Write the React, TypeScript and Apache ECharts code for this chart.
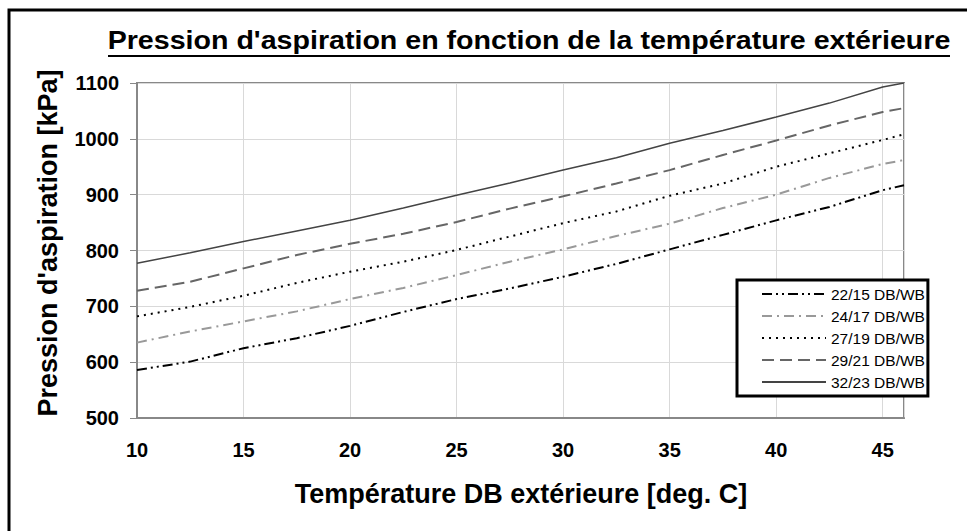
import React, { useEffect, useRef } from "react";
import * as echarts from "echarts";

const temps = [10, 12.5, 15, 17.5, 20, 22.5, 25, 27.5, 30, 32.5, 35, 37.5, 40, 42.5, 45, 46];
const s2215 = [586, 601, 625, 643, 665, 690, 713, 732, 753, 776, 802, 828, 854, 878, 908, 917];
const s2417 = [635, 655, 673, 691, 713, 733, 756, 780, 802, 826, 848, 876, 900, 930, 955, 962];
const s2719 = [682, 699, 719, 742, 762, 780, 801, 825, 849, 870, 898, 920, 950, 974, 998, 1008];
const s2921 = [728, 744, 768, 792, 812, 830, 851, 875, 897, 920, 944, 971, 997, 1024, 1048, 1055];
const s3223 = [777, 796, 816, 835, 854, 876, 899, 921, 944, 966, 992, 1015, 1039, 1064, 1093, 1100];

const seriesNames = ["22/15 DB/WB", "24/17 DB/WB", "27/19 DB/WB", "29/21 DB/WB", "32/23 DB/WB"];
const seriesValues = [s2215, s2417, s2719, s2921, s3223];

const titleText = "Pression d'aspiration en fonction de la température extérieure";
const xTitle = "Température DB extérieure [deg. C]";
const yTitle = "Pression d'aspiration [kPa]";

const FONT = '"Liberation Sans", Arial, sans-serif';

const lineStyles = [
  { color: "#000000", width: 2, type: [10, 4, 2, 4, 2, 4] },
  { color: "#999999", width: 2, type: [10, 5, 2, 5] },
  { color: "#000000", width: 2, type: [2, 5] },
  { color: "#666666", width: 2, type: [12, 6] },
  { color: "#444444", width: 1.5, type: "solid" },
];

export default function App() {
  const ref = useRef<HTMLDivElement>(null);
  useEffect(() => {
    if (!ref.current) return;
    const chart = echarts.init(ref.current, null, { renderer: "svg" });
    const series = seriesNames.map((name, i) => ({
      name,
      type: "line",
      data: temps.map((t, j) => [t, seriesValues[i][j]]),
      symbol: "none",
      smooth: false,
      lineStyle: lineStyles[i],
      itemStyle: { color: lineStyles[i].color },
    }));
    chart.setOption({
      animation: false,
      backgroundColor: "#ffffff",
      grid: {
        left: 137,
        right: 63,
        top: 83,
        bottom: 113,
        show: true,
        borderColor: "#888888",
        borderWidth: 2,
      },
      xAxis: {
        type: "value",
        min: 10,
        max: 46,
        interval: 5,
        axisLine: { lineStyle: { color: "#888888", width: 2 } },
        axisTick: { show: false },
        splitLine: { lineStyle: { color: "#d9d9d9", width: 1 } },
        axisLabel: {
          showMaxLabel: false,
          margin: 22,
          color: "#000",
          fontFamily: FONT,
          fontWeight: "bold",
          fontSize: 20,
        },
      },
      yAxis: {
        type: "value",
        min: 500,
        max: 1100,
        interval: 100,
        axisLine: { show: true, lineStyle: { color: "#888888", width: 2 } },
        axisTick: { show: true, length: 7, lineStyle: { color: "#888888" } },
        splitLine: { lineStyle: { color: "#d9d9d9", width: 1 } },
        axisLabel: {
          margin: 18,
          color: "#000",
          fontFamily: FONT,
          fontWeight: "bold",
          fontSize: 20,
          formatter: (v: number) => String(v),
        },
      },
      legend: {
        orient: "vertical",
        left: 737,
        top: 280,
        data: seriesNames,
        itemWidth: 64,
        itemHeight: 16,
        itemGap: 6,
        padding: [6, 3, 6, 24],
        borderColor: "#000",
        borderWidth: 3,
        backgroundColor: "#fff",
        itemStyle: { opacity: 0, color: "transparent", borderWidth: 0 },
        textStyle: { fontFamily: FONT, fontSize: 15.5, color: "#000" },
      },
      graphic: [
        {
          type: "rect",
          shape: { x: 9, y: 10, width: 1000, height: 600 },
          style: { fill: "none", stroke: "#000", lineWidth: 3 },
          silent: true,
        },
        {
          type: "text",
          x: 529,
          y: 40,
          scaleX: 1.1,
          style: {
            text: titleText,
            fontFamily: FONT,
            fontWeight: "bold",
            fontSize: 26,
            fill: "#000",
            textAlign: "center",
            textVerticalAlign: "middle",
            align: "center",
            verticalAlign: "middle",
          },
        },
        {
          type: "line",
          shape: { x1: 108, y1: 56, x2: 950, y2: 56 },
          style: { stroke: "#000", lineWidth: 2 },
        },
        {
          type: "text",
          x: 48,
          y: 243,
          rotation: Math.PI / 2,
          style: {
            text: yTitle,
            fontFamily: FONT,
            fontWeight: "bold",
            fontSize: 27,
            fill: "#000",
            textAlign: "center",
            textVerticalAlign: "middle",
            align: "center",
            verticalAlign: "middle",
          },
        },
        {
          type: "text",
          x: 521,
          y: 494,
          style: {
            text: xTitle,
            fontFamily: FONT,
            fontWeight: "bold",
            fontSize: 27,
            fill: "#000",
            textAlign: "center",
            textVerticalAlign: "middle",
            align: "center",
            verticalAlign: "middle",
          },
        },
      ],
      series,
    });
    return () => chart.dispose();
  }, []);
  return (
    <div
      ref={ref}
      style={{ position: "fixed", left: 0, top: 0, width: 967, height: 531, background: "#fff" }}
    />
  );
}
